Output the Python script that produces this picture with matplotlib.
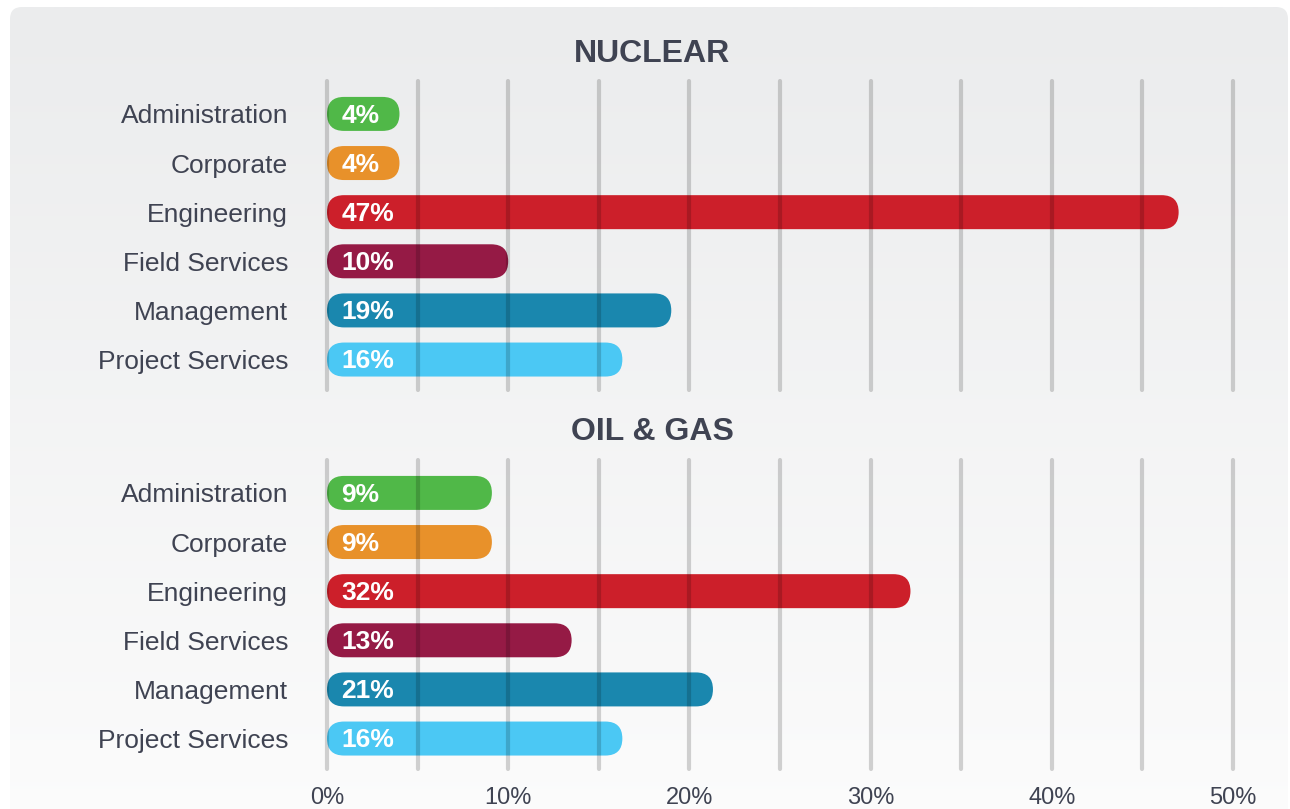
import numpy as np
import matplotlib.pyplot as plt
from matplotlib.patches import FancyBboxPatch
from matplotlib.ticker import MultipleLocator, FuncFormatter

plt.rcParams["font.family"] = ["Liberation Sans", "DejaVu Sans"]

categories = ["Administration", "Corporate", "Engineering",
              "Field Services", "Management", "Project Services"]
colors = ["#50b848", "#e8912a", "#cc1f2a", "#951a45", "#1a87ae", "#4bc8f4"]

nuclear = [4, 4, 47, 10, 19, 16.3]
nuclear_labels = ["4%", "4%", "47%", "10%", "19%", "16%"]
oil_gas = [9.1, 9.1, 32.2, 13.5, 21.3, 16.3]
oil_gas_labels = ["9%", "9%", "32%", "13%", "21%", "16%"]

W, H = 1290, 809
TEXT = "#3f4352"

fig = plt.figure(figsize=(W / 100, H / 100), dpi=100)
fig.patch.set_facecolor("white")

# background card with a soft vertical gradient
bg = fig.add_axes([0, 0, 1, 1], zorder=-10)
bg.set_xlim(0, W)
bg.set_ylim(H, 0)
bg.axis("off")
card = FancyBboxPatch((10, 7), 1278, H + 30, boxstyle="round,pad=0,rounding_size=12",
                      facecolor="none", edgecolor="none")
bg.add_patch(card)
grad = np.linspace(0, 1, 256)[:, None]
top = np.array([235, 236, 237]) / 255
bot = np.array([252, 252, 252]) / 255
img = top + (bot - top) * grad[..., None]
im = bg.imshow(img, extent=[10, 1288, H + 30, 7], aspect="auto", interpolation="bilinear")
im.set_clip_path(card)


def px_axes(x0, y0, x1, y1):
    return fig.add_axes([x0 / W, 1 - y1 / H, (x1 - x0) / W, (y1 - y0) / H])


def panel(ax, values, labels, title, title_y, show_ticks):
    y_top, y_bot = -0.67, 5.62
    ax.set_xlim(0, 50)
    ax.set_ylim(y_bot, y_top)
    ax.patch.set_visible(False)
    for s in ax.spines.values():
        s.set_visible(False)

    # pixels per data unit, used to give bars round ends
    bb = ax.get_position()
    xpp = 50 / (bb.width * W)
    ypp = (y_bot - y_top) / (bb.height * H)
    aspect = ypp / xpp
    bar_px = 34
    bh = bar_px * ypp
    r = bar_px / 2 * xpp

    for i, (v, lab, c) in enumerate(zip(values, labels, colors)):
        p = FancyBboxPatch((0, i - bh / 2), v, bh,
                           boxstyle=f"round,pad=0,rounding_size={r}",
                           mutation_aspect=aspect, facecolor=c, edgecolor="none", zorder=1)
        ax.add_patch(p)
        ax.annotate(lab, (0, i), xytext=(10.5, -1.2), textcoords="offset points",
                    ha="left", va="center", color="white", fontsize=19,
                    fontweight="bold", zorder=4)

    for x in np.arange(0, 51, 5):
        ax.plot([x, x], [y_top, y_bot], color="black", alpha=0.17, lw=3,
                solid_capstyle="round", zorder=3, clip_on=False)

    ax.set_yticks(range(len(categories)))
    ax.set_yticklabels(categories, fontsize=19, color=TEXT)
    ax.tick_params(axis="y", length=0, pad=28)
    ax.xaxis.set_major_locator(MultipleLocator(10))
    ax.xaxis.set_major_formatter(FuncFormatter(lambda v, _: f"{v:.0f}%"))
    ax.tick_params(axis="x", length=0, pad=13, labelsize=17, labelcolor=TEXT,
                   labelbottom=show_ticks)
    fig.text(652 / W, 1 - title_y / H, title, ha="center", va="center",
             fontsize=23, fontweight="bold", color=TEXT)


ax1 = px_axes(327, 81, 1233, 390)
ax2 = px_axes(327, 460, 1233, 769)
panel(ax1, nuclear, nuclear_labels, "NUCLEAR", 54.5, False)
panel(ax2, oil_gas, oil_gas_labels, "OIL & GAS", 432.5, True)

fig.savefig("out.png", dpi=100)
